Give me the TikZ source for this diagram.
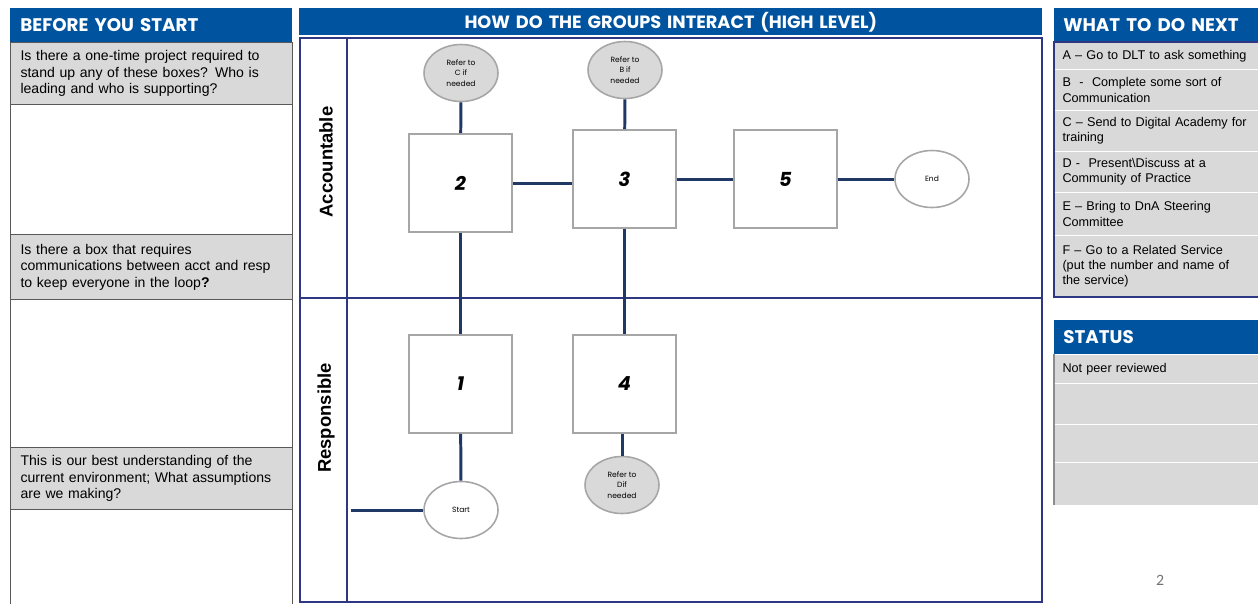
\documentclass[tikz,border=0pt]{standalone}
\usepackage{fontspec}
\setmainfont{Liberation Sans}
\newfontfamily\headfont{Poppins}
\newfontfamily\pagefont{Carlito}
\usepackage{xcolor}
\usepackage{tikz}
\usetikzlibrary{shapes.geometric, positioning}

\definecolor{hdrblue}{HTML}{00539F}
\definecolor{cellgray}{HTML}{D9D9D9}
\definecolor{linknavy}{HTML}{1F3864}
\definecolor{lanenavy}{HTML}{2E3784}
\definecolor{boxgray}{HTML}{A6A6A6}

\tikzset{
  %% Blue section header
  hdr/.style={
    rectangle, anchor=north west, fill=hdrblue, text=white,
    inner xsep=0.2cm, inner ysep=0pt, align=left,
    font=\headfont\bfseries\fontsize{10.4}{12}\selectfont
  },
  %% Grey question / option cell
  cell/.style={
    rectangle, anchor=north west, fill=cellgray,
    draw=#1, line width=0.6pt,
    inner xsep=0.2cm, inner ysep=0pt, align=left,
    font=\fontsize{8}{9.4}\selectfont
  },
  cell/.default=black!65,
  %% Option cell on the right
  opt/.style={
    cell=white, text width=3.76cm, inner xsep=0.16cm,
    font=\fontsize{7.2}{8.6}\selectfont
  },
  %% Empty answer cell
  blank/.style={
    rectangle, anchor=north west, fill=white,
    draw=black!65, line width=0.6pt,
    minimum width=5.64cm
  },
  %% Process box
  pbox/.style={
    rectangle, draw=boxgray, fill=white, line width=0.9pt,
    minimum width=2.06cm, minimum height=1.96cm,
    font=\headfont\bfseries\itshape\fontsize{11}{13}\selectfont
  },
  %% Terminal / reference ellipse
  oval/.style={
    ellipse, draw=boxgray, fill=#1, line width=0.9pt,
    minimum width=1.48cm, minimum height=1.14cm, inner sep=0pt,
    align=center, font=\headfont\fontsize{4.3}{5.9}\selectfont
  },
  oval/.default=white,
  %% Connector
  link/.style={draw=linknavy, line width=1.7pt},
  %% Swimlane frame
  lane/.style={draw=lanenavy, line width=0.9pt},
}

\begin{document}
\begin{tikzpicture}[x=0.02cm, y=-0.02cm, every node/.style={text=black}]
  \useasboundingbox (0,0) rectangle (1258,603);

  %% Left panel: before you start
  \node[hdr, text=white, text width=5.24cm, minimum height=0.68cm] (hbefore) at (10,8)
       {BEFORE YOU START};
  \node[cell, text width=5.24cm, minimum height=1.24cm] (q1) at (10,42)
       {Is there a one-time project required to\\stand up any of these boxes? Who is\\leading and who is supporting?};
  \node[blank, minimum height=2.6cm] (a1) at (10,104) {};
  \node[cell, text width=5.24cm, minimum height=1.30cm] (q2) at (10,234)
       {Is there a box that requires\\communications between acct and resp\\to keep everyone in the loop\textbf{?}};
  \node[blank, minimum height=2.96cm] (a2) at (10,299) {};
  \node[cell, text width=5.24cm, minimum height=1.24cm] (q3) at (10,447)
       {This is our best understanding of the\\current environment; What assumptions\\are we making?};
  \node[blank, minimum height=1.9cm] (a3) at (10,509) {};

  %% Middle panel: swimlanes
  \node[hdr, text=white, text width=14.46cm, align=center, minimum height=0.54cm,
        font=\headfont\bfseries\fontsize{10.1}{11}\selectfont] (hgroups) at (299,8)
       {HOW DO THE GROUPS INTERACT (HIGH LEVEL)};
  \draw[lane] (300,38) rectangle (1042,298);
  \draw[lane] (300,298) rectangle (1042,602);
  \draw[lane] (347,38) -- (347,602);
  \node[rotate=90, font=\bfseries\fontsize{10.5}{12}\selectfont] (lacc) at (326,162) {Accountable};
  \node[rotate=90, font=\bfseries\fontsize{10.5}{12}\selectfont] (lresp) at (326,418) {Responsible};

  %% Process boxes
  \node[pbox] (n2) at (460.5,183) {2};
  \node[pbox] (n3) at (624.5,179) {3};
  \node[pbox] (n5) at (785.5,179) {5};
  \node[pbox] (n1) at (460.5,384) {1};
  \node[pbox] (n4) at (624.5,384) {4};

  %% Ellipses
  \node[oval=cellgray] (refc) at (461,73) {Refer to\\C if\\needed};
  \node[oval=cellgray] (refb) at (625,70) {Refer to\\B if\\needed};
  \node[oval=cellgray] (refd) at (622,485) {Refer to\\Dif\\needed};
  \node[oval] (endn) at (932,179) {End};
  \node[oval] (startn) at (461,510) {Start};
  \coordinate (startin) at (351,510);

  %% Connectors
  \draw[link] (refc) -- (n2);
  \draw[link] (refb) -- (n3);
  \draw[link] (n2.east) -- (n2.east -| n3.west);
  \draw[link] (n3) -- (n5);
  \draw[link] (n5) -- (endn);
  \draw[link] (n2) -- (n1);
  \draw[link] (n3) -- (n4);
  \draw[link] (n1) -- (startn);
  \draw[link] (refd |- n4.south) -- (refd);
  \draw[link] (startin) -- (startn);

  %% Right panel: what to do next
  \node[hdr, text=white, text width=3.72cm, minimum height=0.68cm, inner xsep=0.18cm] (hnext) at (1054,8)
       {WHAT TO DO NEXT};
  \node[opt, minimum height=0.54cm] (oa) at (1054,42)
       {A -- Go to DLT to ask something};
  \node[opt, minimum height=0.82cm] (ob) at (1054,69)
       {B \ - \ Complete some sort of\\Communication};
  \node[opt, minimum height=0.82cm] (oc) at (1054,110)
       {C -- Send to Digital Academy for\\training};
  \node[opt, minimum height=0.82cm] (od) at (1054,151)
       {D - \ Present\textbackslash Discuss at a\\Community of Practice};
  \node[opt, minimum height=0.86cm] (oe) at (1054,192)
       {E -- Bring to DnA Steering\\Committee};
  \node[opt, minimum height=1.24cm] (of) at (1054,235)
       {F -- Go to a Related Service\\(put the number and name of\\the service)};
  \draw[lane] (1054,42) rectangle (1260,297);

  %% Right panel: status
  \node[hdr, text=white, text width=3.72cm, minimum height=0.68cm, inner xsep=0.18cm] (hstatus) at (1054,320)
       {STATUS};
  \node[opt, minimum height=0.58cm] (s1) at (1054,354) {Not peer reviewed};
  \node[opt, minimum height=0.82cm] (s2) at (1054,383) {};
  \node[opt, minimum height=0.76cm] (s3) at (1054,424) {};
  \node[opt, minimum height=0.86cm] (s4) at (1054,462) {};
  \draw[draw=black!45, line width=0.6pt] (1054,354) -- (1054,505);

  %% Page number
  \node[text=black!55, font=\pagefont\fontsize{9}{11}\selectfont] (pnum) at (1160,580) {2};
\end{tikzpicture}
\end{document}
